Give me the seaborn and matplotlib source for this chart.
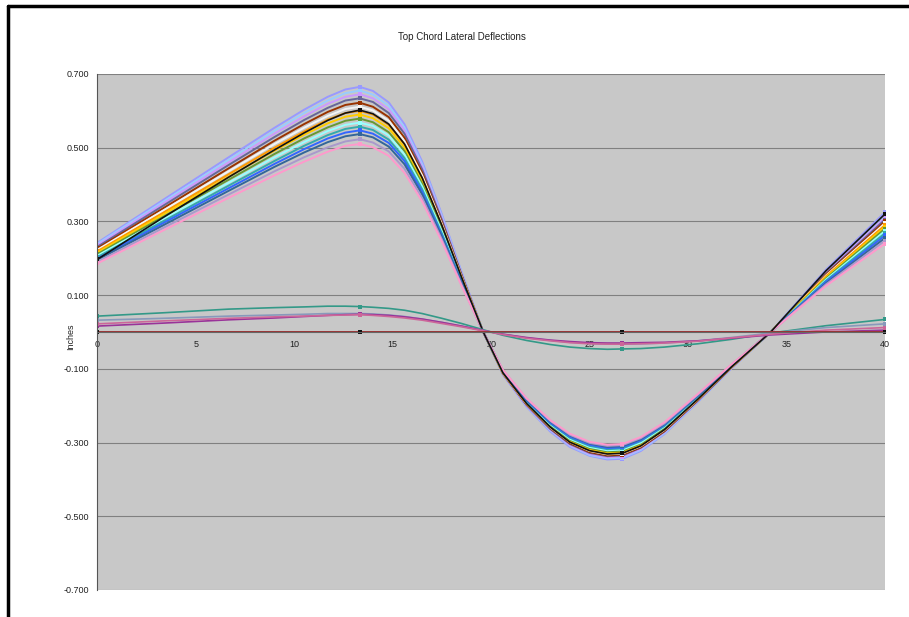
import numpy as np
import pandas as pd
import matplotlib
matplotlib.use("Agg")
import matplotlib.pyplot as plt
from matplotlib.lines import Line2D
import seaborn as sns

# span positions (ft) where deflections were read
x_pos = [0, 3.33, 6.67, 9, 10.5, 11.7, 12.6, 13.33, 14, 14.8, 15.6, 16.5, 17.5, 18.5, 19.6,
         20.6, 21.8, 23, 24, 25, 25.9, 26.67, 27.6, 28.8, 30.5, 32.2, 34.2, 37, 40]

# main bundle of load cases (inches)
s01 = [0.242, 0.358, 0.474, 0.554, 0.603, 0.638, 0.658, 0.665, 0.654, 0.623, 0.564, 0.462, 0.319, 0.163, 0.0,
       -0.116, -0.203, -0.270, -0.312, -0.336, -0.346, -0.344, -0.323, -0.277, -0.190, -0.099, 0.0, 0.169, 0.325]
s02 = [0.239, 0.353, 0.467, 0.546, 0.594, 0.628, 0.648, 0.655, 0.644, 0.614, 0.555, 0.455, 0.314, 0.161, 0.0,
       -0.115, -0.201, -0.267, -0.309, -0.334, -0.343, -0.341, -0.320, -0.275, -0.189, -0.099, 0.0, 0.165, 0.318]
s03 = [0.235, 0.348, 0.460, 0.538, 0.585, 0.619, 0.638, 0.645, 0.634, 0.604, 0.547, 0.448, 0.309, 0.158, 0.0,
       -0.114, -0.200, -0.265, -0.307, -0.331, -0.340, -0.338, -0.317, -0.272, -0.187, -0.098, 0.0, 0.161, 0.310]
s04 = [0.231, 0.342, 0.453, 0.529, 0.575, 0.608, 0.628, 0.634, 0.624, 0.594, 0.538, 0.441, 0.304, 0.156, 0.0,
       -0.113, -0.198, -0.263, -0.304, -0.328, -0.337, -0.335, -0.314, -0.270, -0.186, -0.097, 0.0, 0.158, 0.305]
s05 = [0.227, 0.335, 0.444, 0.519, 0.564, 0.597, 0.616, 0.622, 0.611, 0.583, 0.527, 0.432, 0.298, 0.153, 0.0,
       -0.113, -0.197, -0.261, -0.302, -0.326, -0.335, -0.333, -0.313, -0.269, -0.185, -0.096, 0.0, 0.156, 0.300]
s06 = [0.223, 0.329, 0.436, 0.510, 0.554, 0.586, 0.605, 0.611, 0.601, 0.573, 0.518, 0.425, 0.293, 0.150, 0.0,
       -0.112, -0.195, -0.259, -0.299, -0.323, -0.332, -0.330, -0.310, -0.266, -0.183, -0.095, 0.0, 0.153, 0.295]
s07 = [0.219, 0.323, 0.428, 0.500, 0.544, 0.576, 0.594, 0.600, 0.590, 0.562, 0.509, 0.417, 0.288, 0.147, 0.0,
       -0.111, -0.194, -0.257, -0.298, -0.321, -0.330, -0.328, -0.308, -0.264, -0.182, -0.095, 0.0, 0.151, 0.290]
s08 = [0.215, 0.318, 0.421, 0.492, 0.535, 0.566, 0.584, 0.590, 0.580, 0.553, 0.500, 0.410, 0.283, 0.145, 0.0,
       -0.110, -0.192, -0.255, -0.295, -0.318, -0.327, -0.325, -0.305, -0.262, -0.180, -0.094, 0.0, 0.148, 0.285]
s09 = [0.211, 0.312, 0.413, 0.483, 0.525, 0.555, 0.573, 0.579, 0.569, 0.542, 0.491, 0.402, 0.278, 0.142, 0.0,
       -0.109, -0.190, -0.253, -0.292, -0.315, -0.324, -0.322, -0.302, -0.260, -0.178, -0.093, 0.0, 0.145, 0.280]
s10 = [0.207, 0.306, 0.405, 0.474, 0.515, 0.545, 0.562, 0.568, 0.559, 0.533, 0.482, 0.395, 0.273, 0.140, 0.0,
       -0.108, -0.189, -0.250, -0.290, -0.312, -0.321, -0.319, -0.300, -0.257, -0.177, -0.092, 0.0, 0.142, 0.274]
s11 = [0.203, 0.300, 0.397, 0.464, 0.505, 0.534, 0.551, 0.557, 0.548, 0.522, 0.472, 0.387, 0.267, 0.137, 0.0,
       -0.107, -0.187, -0.248, -0.287, -0.309, -0.318, -0.316, -0.296, -0.255, -0.175, -0.091, 0.0, 0.139, 0.268]
s12 = [0.199, 0.295, 0.390, 0.456, 0.496, 0.525, 0.541, 0.547, 0.538, 0.513, 0.464, 0.380, 0.262, 0.134, 0.0,
       -0.106, -0.185, -0.246, -0.284, -0.306, -0.315, -0.313, -0.294, -0.252, -0.173, -0.091, 0.0, 0.136, 0.262]
s13 = [0.196, 0.289, 0.383, 0.448, 0.487, 0.515, 0.531, 0.537, 0.528, 0.503, 0.455, 0.373, 0.258, 0.132, 0.0,
       -0.105, -0.183, -0.243, -0.281, -0.303, -0.312, -0.310, -0.291, -0.250, -0.172, -0.090, 0.0, 0.132, 0.255]
s14 = [0.190, 0.282, 0.373, 0.436, 0.474, 0.501, 0.517, 0.523, 0.514, 0.490, 0.443, 0.363, 0.251, 0.128, 0.0,
       -0.104, -0.181, -0.241, -0.279, -0.301, -0.309, -0.307, -0.288, -0.248, -0.170, -0.089, 0.0, 0.129, 0.248]
s15 = [0.186, 0.275, 0.364, 0.425, 0.462, 0.489, 0.505, 0.510, 0.501, 0.478, 0.432, 0.354, 0.245, 0.125, 0.0,
       -0.103, -0.180, -0.239, -0.276, -0.298, -0.306, -0.304, -0.285, -0.245, -0.168, -0.088, 0.0, 0.125, 0.240]
s16 = [0.197, 0.310, 0.420, 0.494, 0.540, 0.574, 0.594, 0.602, 0.592, 0.564, 0.510, 0.418, 0.289, 0.148, 0.0,
       -0.111, -0.194, -0.258, -0.299, -0.322, -0.331, -0.329, -0.309, -0.265, -0.182, -0.095, 0.0, 0.166, 0.320]

# small cases near zero
small_teal = [0.043, 0.052, 0.062, 0.066, 0.068, 0.070, 0.070, 0.069, 0.067, 0.064, 0.059, 0.050, 0.037, 0.023, 0.006,
              -0.009, -0.023, -0.034, -0.041, -0.045, -0.047, -0.046, -0.045, -0.041, -0.032, -0.020, -0.003, 0.017, 0.034]
small_gray = [0.032, 0.037, 0.043, 0.046, 0.048, 0.050, 0.050, 0.050, 0.049, 0.046, 0.042, 0.035, 0.026, 0.016, 0.004,
              -0.006, -0.016, -0.023, -0.028, -0.031, -0.033, -0.033, -0.032, -0.030, -0.024, -0.015, -0.003, 0.012, 0.022]
small_purple = [0.016, 0.024, 0.033, 0.038, 0.042, 0.045, 0.047, 0.048, 0.047, 0.045, 0.041, 0.035, 0.026, 0.016, 0.004,
                -0.006, -0.015, -0.022, -0.026, -0.029, -0.030, -0.030, -0.029, -0.028, -0.024, -0.017, -0.008, 0.000, 0.005]
small_pink = [0.022, 0.030, 0.037, 0.041, 0.043, 0.045, 0.046, 0.047, 0.045, 0.042, 0.038, 0.032, 0.023, 0.014, 0.003,
              -0.007, -0.017, -0.024, -0.029, -0.032, -0.033, -0.033, -0.032, -0.030, -0.025, -0.016, -0.006, 0.005, 0.012]
zero_case = [0.0, 0.0, 0.0, 0.0, 0.0, 0.0, 0.0, 0.0, 0.0, 0.0, 0.0, 0.0, 0.0, 0.0, 0.0,
             0.0, 0.0, 0.0, 0.0, 0.0, 0.0, 0.0, 0.0, 0.0, 0.0, 0.0, 0.0, 0.0, 0.0]

x_ticks = [0, 5, 10, 15, 20, 25, 30, 35, 40]
y_ticks = [-0.7, -0.5, -0.3, -0.1, 0.1, 0.3, 0.5, 0.7]
y_tick_labels = ["-0.700", "-0.500", "-0.300", "-0.100", "0.100", "0.300", "0.500", "0.700"]

bundle = [s01, s02, s03, s04, s05, s06, s07, s08, s09, s10, s11, s12, s13, s14, s15]
bundle_colors = ["#9999ff", "#99ccff", "#cc99ff", "#666699", "#993300", "#f4f4f4",
                 "#ff9900", "#ffcc00", "#669933", "#99ffff", "#33aaaa", "#3366ff",
                 "#336699", "#aa99cc", "#ff99cc"]
small = [small_teal, small_gray, small_purple, small_pink]
small_colors = ["#339988", "#8899bb", "#993399", "#cc6699"]
marker_idx = [0, 7, 21, 28]   # panel points 0, 13.33, 26.67, 40

sns.set_style("white")
plt.rcParams["font.family"] = ["Liberation Sans", "DejaVu Sans"]

fig = plt.figure(figsize=(9.09, 6.17), dpi=100)
ax = fig.add_axes([0.107, 0.0438, 0.8666, 0.8363])
ax.set_facecolor("#c8c8c8")

for vals, col in zip(bundle, bundle_colors):
    sns.lineplot(x=x_pos, y=vals, color=col, ax=ax, lw=1.4, marker="s", ms=3,
                 markevery=marker_idx, markeredgewidth=0, legend=False)
sns.lineplot(x=x_pos, y=s16, color="#111111", ax=ax, lw=1.2, marker="s", ms=3,
             markevery=marker_idx, markeredgewidth=0, legend=False)

for vals, col in zip(small, small_colors):
    sns.lineplot(x=x_pos, y=vals, color=col, ax=ax, lw=1.2, marker="s", ms=3,
                 markevery=marker_idx, markeredgewidth=0, legend=False)
sns.lineplot(x=x_pos, y=zero_case, color="#993333", ax=ax, lw=1.4, marker="s", ms=3.5,
             markevery=marker_idx, markerfacecolor="#111111", markeredgewidth=0, legend=False)

ax.set_xlim(0, 40)
ax.set_ylim(-0.7, 0.7)
ax.set_xticks(x_ticks)
ax.set_xticklabels([str(v) for v in x_ticks])
ax.set_yticks(y_ticks)
ax.set_yticklabels(y_tick_labels)
ax.grid(axis="y", color="#808080", lw=0.8)
ax.grid(axis="x", visible=False)
ax.set_axisbelow(True)

for side in ["top", "right"]:
    ax.spines[side].set_visible(False)
ax.spines["bottom"].set_position(("data", 0))
ax.spines["bottom"].set_color("#666666")
ax.spines["left"].set_color("#555555")
ax.tick_params(axis="both", labelsize=6.5, length=3, width=0.8, colors="#555555",
               labelcolor="#222222", direction="out", pad=3)

ax.set_xlabel("")
ax.set_ylabel("Inches", fontsize=6.5, color="#222222")
ax.yaxis.set_label_coords(-0.028, 0.49)

fig.text(0.508, 1 - 37 / 617, "Top Chord Lateral Deflections", ha="center", va="center",
         fontsize=7, color="#222222")

# chart-area border (clipped at top/left like the screenshot)
fig.add_artist(Line2D([8 / 909, 8 / 909], [0, 1 - 6 / 617], transform=fig.transFigure,
                      color="black", lw=2.5))
fig.add_artist(Line2D([8 / 909, 1], [1 - 6 / 617, 1 - 6 / 617], transform=fig.transFigure,
                      color="black", lw=2.5))

fig.savefig("out.png", dpi=100)
